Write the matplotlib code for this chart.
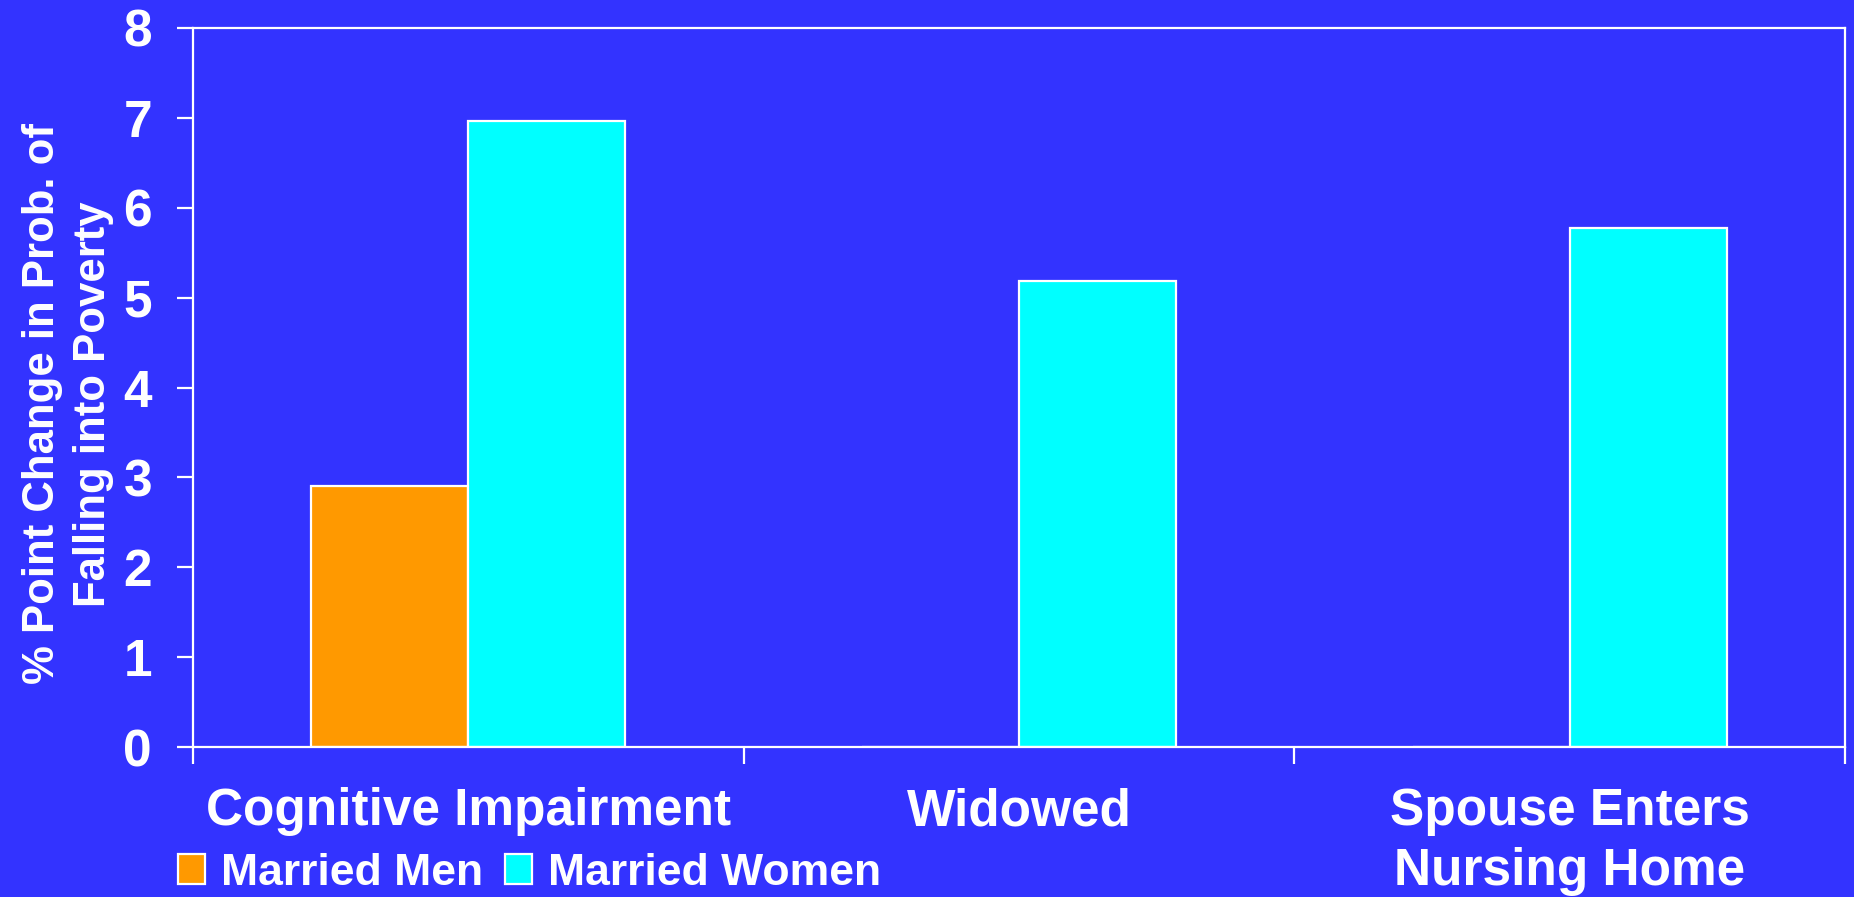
import numpy as np
import matplotlib
matplotlib.use("Agg")
import matplotlib.pyplot as plt

categories = ["Cognitive Impairment", "Widowed", "Spouse Enters\nNursing Home"]
married_men = [2.9, 0.0, 0.0]
married_women = [6.97, 5.18, 5.78]
yticks = [0, 1, 2, 3, 4, 5, 6, 7, 8]

BG = "#3333FF"
ORANGE = "#FF9900"
CYAN = "#00FFFF"
WHITE = "white"

plt.rcParams["font.family"] = ["Liberation Sans", "DejaVu Sans"]
plt.rcParams["font.weight"] = "bold"

fig = plt.figure(figsize=(18.54, 8.97), dpi=100, facecolor=BG)
ax = fig.add_axes([0.1041, 0.1672, 0.8910, 0.8016], facecolor=BG)

x = np.arange(len(categories))
w = 0.285
ax.bar(x - w / 2, married_men, width=w, color=ORANGE, edgecolor=WHITE,
       linewidth=1.6, label="Married Men", zorder=2)
ax.bar(x + w / 2, married_women, width=w, color=CYAN, edgecolor=WHITE,
       linewidth=1.6, label="Married Women", zorder=2)

ax.set_xlim(-0.5, len(categories) - 0.5)
ax.set_ylim(0, 8)
ax.set_yticks(yticks)
ax.set_yticklabels([str(t) for t in yticks])

# category labels at the centres, tick marks on the group boundaries
ax.set_xticks(x)
ax.set_xticklabels(categories, linespacing=1.28)
ax.set_xticks(np.arange(len(categories) + 1) - 0.5, minor=True)
ax.tick_params(axis="x", which="major", length=0, pad=29,
               labelsize=37, labelcolor=WHITE)
ax.tick_params(axis="x", which="minor", length=12, width=1.6,
               color=WHITE, direction="out")
ax.tick_params(axis="y", length=11.5, width=1.6, color=WHITE,
               direction="out", pad=18, labelsize=37, labelcolor=WHITE)
for lab in ax.get_xticklabels() + ax.get_yticklabels():
    lab.set_fontweight("bold")
for lab in ax.get_xticklabels():
    lab.set_verticalalignment("top")

for side in ["left", "right", "top", "bottom"]:
    ax.spines[side].set_color(WHITE)
    ax.spines[side].set_linewidth(1.6)

ax.set_ylabel("% Point Change in Prob. of\nFalling into Poverty",
              fontsize=31.5, fontweight="bold", color=WHITE,
              linespacing=1.3)
ax.yaxis.set_label_coords(-0.048, 0.477)

leg = fig.legend(loc="lower left", bbox_to_anchor=(0.0865, -0.016), ncol=2,
                 frameon=False, fontsize=32, handlelength=0.6,
                 handleheight=0.68, handletextpad=0.36, columnspacing=0.5,
                 borderaxespad=0.0)
for t in leg.get_texts():
    t.set_color(WHITE)
    t.set_fontweight("bold")

fig.savefig("out.png", dpi=100, facecolor=BG)
